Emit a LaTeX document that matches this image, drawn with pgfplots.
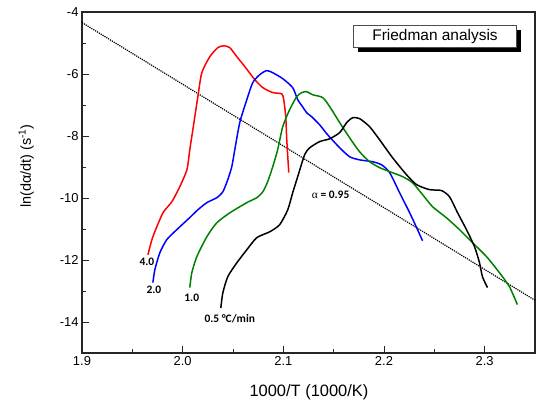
\documentclass[border=0pt]{standalone}
\usepackage{fontspec}
\setmainfont{Liberation Sans}
\newfontfamily\calib{Carlito}
\newfontfamily\timesf{Liberation Serif}
\usepackage{pgfplots}
\pgfplotsset{compat=1.18}
\definecolor{cgreen}{RGB}{0,128,0}
\begin{document}
\begin{tikzpicture}
\useasboundingbox (-82bp,-52bp) rectangle (454bp,353bp);
\begin{axis}[
  at={(0,0)}, anchor=south west,
  scale only axis, width=453bp, height=341bp,
  xmin=1.9, xmax=2.35, ymin=-15, ymax=-4,
  xtick={1.9,2.0,2.1,2.2,2.3}, minor x tick num=1,
  ytick={-14,-12,-10,-8,-6,-4}, minor y tick num=1,
  tick align=inside, xtick pos=bottom, ytick pos=left,
  major tick length=7bp, minor tick length=4bp,
  axis line style={line width=1.1pt, black!85},
  every tick/.style={line width=0.9pt, black!85},
  /pgf/number format/assume math mode=true,
  xticklabel style={/pgf/number format/.cd, fixed, fixed zerofill, precision=1},
  ticklabel style={font=\fontsize{13}{15}\selectfont},
  xlabel={1000/T (1000/K)},
  ylabel={ln(dα/dt) (s\textsuperscript{-1})},
  xlabel style={font=\fontsize{16.5}{18}\selectfont, at={(axis description cs:0.501,-0.114)}, anchor=center},
  ylabel style={font=\fontsize{14.5}{16}\selectfont, at={(axis description cs:-0.123,0.548)}, anchor=center},
  clip=false,
]
\addplot[black, densely dotted, line width=1.2pt] coordinates {(1.9,-4.34) (2.35,-13.3)};
% 4.0
\addplot[red, line width=1.5pt, smooth, tension=0.4] coordinates {
(1.9655,-11.83) (1.9704,-11.25) (1.9804,-10.48) (1.9893,-10.12) (1.9972,-9.63)
(2.0042,-9.09) (2.0071,-8.44) (2.0101,-7.80) (2.0151,-6.73) (2.0190,-5.96)
(2.0270,-5.44) (2.0349,-5.15) (2.0409,-5.09) (2.0468,-5.15) (2.0538,-5.44)
(2.0617,-5.76) (2.0716,-6.18) (2.0796,-6.44) (2.0895,-6.60) (2.0984,-6.64)
(2.1004,-6.83) (2.1024,-7.38) (2.1034,-8.12) (2.1054,-9.18)};
% 2.0
\addplot[blue, line width=1.5pt, smooth, tension=0.4] coordinates {
(1.9704,-12.73) (1.9724,-12.31) (1.9774,-11.76) (1.9843,-11.34) (1.9942,-11.02)
(2.0071,-10.63) (2.0151,-10.38) (2.0240,-10.15) (2.0339,-9.99) (2.0399,-9.80)
(2.0448,-9.41) (2.0488,-8.99) (2.0518,-8.44) (2.0567,-7.57) (2.0637,-6.83)
(2.0696,-6.28) (2.0766,-6.02) (2.0835,-5.89) (2.0895,-5.96) (2.0994,-6.15)
(2.1093,-6.44) (2.1143,-6.83) (2.1192,-7.06) (2.1232,-7.25) (2.1282,-7.38)
(2.1361,-7.64) (2.1440,-7.96) (2.1560,-8.38) (2.1659,-8.67) (2.1758,-8.77)
(2.1887,-8.83) (2.1976,-8.93) (2.2056,-9.18) (2.2155,-9.83) (2.2254,-10.47)
(2.2333,-11.02) (2.2383,-11.38)};
% 1.0
\addplot[cgreen, line width=1.5pt, smooth, tension=0.4] coordinates {
(2.0071,-12.89) (2.0091,-12.41) (2.0141,-11.89) (2.0240,-11.25) (2.0339,-10.80)
(2.0468,-10.48) (2.0637,-10.15) (2.0736,-9.99) (2.0796,-9.80) (2.0845,-9.47)
(2.0895,-8.99) (2.0944,-8.44) (2.0994,-7.70) (2.1063,-7.15) (2.1133,-6.73)
(2.1183,-6.60) (2.1232,-6.57) (2.1292,-6.67) (2.1391,-6.76) (2.1460,-7.05)
(2.1560,-7.57) (2.1659,-8.06) (2.1758,-8.51) (2.1857,-8.83) (2.1956,-9.02)
(2.2056,-9.15) (2.2184,-9.31) (2.2284,-9.51) (2.2383,-9.89) (2.2482,-10.28)
(2.2621,-10.64) (2.2750,-11.02) (2.2879,-11.44) (2.3018,-11.89) (2.3147,-12.41)
(2.3246,-12.86) (2.3325,-13.44)};
% 0.5
\addplot[black, line width=1.5pt, smooth, tension=0.4] coordinates {
(2.0379,-13.55) (2.0399,-13.06) (2.0448,-12.54) (2.0538,-12.09) (2.0637,-11.67)
(2.0736,-11.28) (2.0865,-11.09) (2.0964,-10.86) (2.1044,-10.38) (2.1093,-9.83)
(2.1143,-9.31) (2.1212,-8.60) (2.1262,-8.38) (2.1361,-8.18) (2.1460,-8.09)
(2.1560,-7.89) (2.1629,-7.57) (2.1689,-7.41) (2.1758,-7.44) (2.1857,-7.70)
(2.1956,-8.12) (2.2085,-8.70) (2.2224,-9.25) (2.2324,-9.57) (2.2452,-9.73)
(2.2571,-9.76) (2.2651,-9.96) (2.2730,-10.47) (2.2819,-11.02) (2.2899,-11.57)
(2.2948,-12.08) (2.2978,-12.54) (2.3028,-12.89)};
\node[font=\calib\bfseries\fontsize{11.5}{13}\selectfont] at (axis cs:1.9645,-12.06) {4.0};
\node[font=\calib\bfseries\fontsize{11.5}{13}\selectfont] at (axis cs:1.9714,-12.96) {2.0};
\node[font=\calib\bfseries\fontsize{11.5}{13}\selectfont] at (axis cs:2.0090,-13.22) {1.0};
\node[font=\calib\bfseries\fontsize{11.5}{13}\selectfont] at (axis cs:2.0468,-13.89) {0.5 °C/min};
\node[font=\calib\bfseries\fontsize{11.5}{13}\selectfont] at (axis cs:2.1470,-9.89) {{\timesf\mdseries α} = 0.95};
\node[fill=black, minimum width=163bp, minimum height=22bp, inner sep=0pt] at ([xshift=4bp,yshift=-4bp]axis cs:2.2507,-4.80) {};
\node[draw=black!70, line width=0.8pt, fill=white, minimum width=163bp, minimum height=22bp, inner sep=0pt, font=\fontsize{15.5}{17}\selectfont] at (axis cs:2.2507,-4.80) {Friedman analysis};
\end{axis}
\end{tikzpicture}
\end{document}
